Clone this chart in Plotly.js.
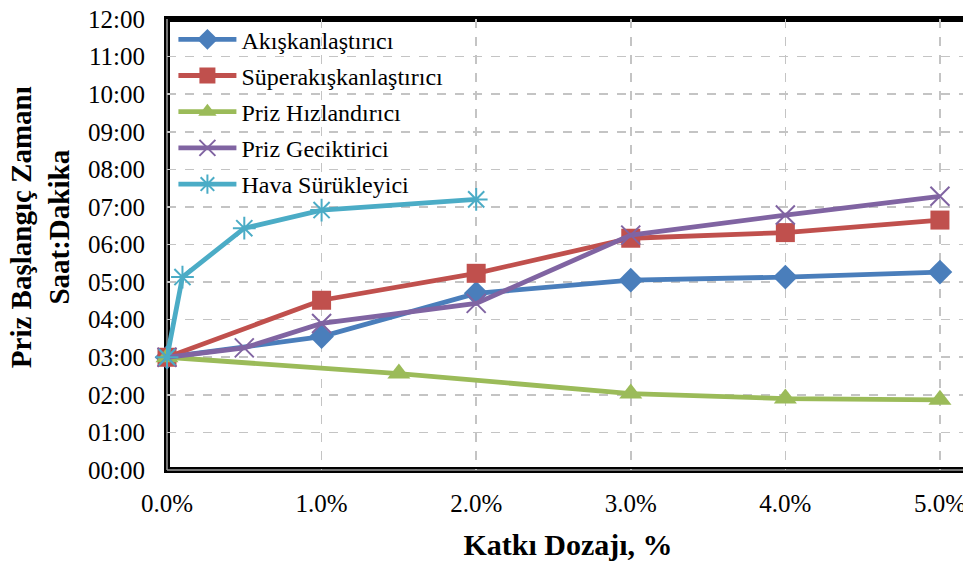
<!DOCTYPE html>
<html>
<head>
<meta charset="utf-8">
<script src="https://cdn.plot.ly/plotly-3.0.1.min.js"></script>
<style>
html, body { margin: 0; padding: 0; overflow: hidden; background: #fff; }
#chart { width: 972px; height: 563px; }
</style>
</head>
<body>
<div id="chart"></div>
<script>
// Data (dosage %, time "HH:MM")
const seriesNames = ["Akışkanlaştırıcı", "Süperakışkanlaştırıcı", "Priz Hızlandırıcı", "Priz Geciktirici", "Hava Sürükleyici"];

const akiskanX = [0, 1, 2, 3, 4, 5];
const akiskanY = ["03:00", "03:33", "04:42", "05:03", "05:08", "05:16"];

const superX = [0, 1, 2, 3, 4, 5];
const superY = ["03:00", "04:31", "05:14", "06:10", "06:19", "06:39"];

const hizlandiriciX = [0, 1.5, 3, 4, 5];
const hizlandiriciY = ["03:00", "02:34", "02:02", "01:54", "01:52"];

const geciktiriciX = [0, 0.5, 1, 2, 3, 4, 5];
const geciktiriciY = ["03:00", "03:15", "03:54", "04:26", "06:15", "06:47", "07:17"];

const havaX = [0, 0.1, 0.5, 1, 2];
const havaY = ["03:00", "05:08", "06:26", "06:55", "07:12"];

const yTickText = ["00:00","01:00","02:00","03:00","04:00","05:00","06:00","07:00","08:00","09:00","10:00","11:00","12:00"];
const xTickVals = [0, 1, 2, 3, 4, 5];
const xTickText = ["0.0%","1.0%","2.0%","3.0%","4.0%","5.0%"];

function toHours(s) { const p = s.split(":"); return Number(p[0]) + Number(p[1]) / 60; }
const yTickVals = yTickText.map(toHours);

const colors = ["#4A7EBB", "#C0504D", "#9BBB59", "#8064A2", "#4BACC6"];
const symbols = ["diamond", "square", "triangle-up", "x-thin-open", "asterisk-open"];
const sizes = [19, 19, 20, 19, 19];
const xs = [akiskanX, superX, hizlandiriciX, geciktiriciX, havaX];
const ys = [akiskanY, superY, hizlandiriciY, geciktiriciY, havaY];

const traces = seriesNames.map((name, i) => ({
  type: "scatter",
  mode: "lines+markers",
  name: name,
  legendgroup: "g" + i,
  x: xs[i],
  y: ys[i].map(toHours),
  cliponaxis: false,
  line: { color: colors[i], width: 4.8 },
  marker: { symbol: symbols[i], size: sizes[i], color: colors[i], line: { color: colors[i], width: (i >= 3 ? 2 : 0) } }
}));

const serif = "Liberation Serif, Times New Roman, serif";

const layout = {
  width: 972, height: 563,
  margin: { l: 167, r: 3, t: 19, b: 93 },
  paper_bgcolor: "#ffffff",
  plot_bgcolor: "#ffffff",
  font: { family: serif, color: "#000000" },
  showlegend: true,
  legend: {
    x: 0.008, y: 1.004, xanchor: "left", yanchor: "top",
    bgcolor: "rgba(0,0,0,0)",
    font: { family: serif, size: 24, color: "#000" },
    itemwidth: 58,
    tracegroupgap: 2
  },
  xaxis: {
    range: [0, 5.188],
    tickvals: xTickVals, ticktext: xTickText,
    tickfont: { family: serif, size: 25, color: "#000" },
    showgrid: true, gridcolor: "#c4c4c4", gridwidth: 1.6, griddash: "dash",
    zeroline: false, showline: false, ticks: "",
    ticklabelstandoff: 16,
    title: { text: "<b>Katkı Dozajı, %</b>", font: { family: serif, size: 30, color: "#000" }, standoff: 17 }
  },
  yaxis: {
    range: [0, 12],
    tickvals: yTickVals, ticktext: yTickText,
    tickfont: { family: serif, size: 25, color: "#000" },
    showgrid: true, gridcolor: "#c4c4c4", gridwidth: 1.6, griddash: "dash",
    zeroline: false, showline: false, ticks: "",
    ticklabelstandoff: 21
  },
  annotations: [{
    text: "<b>Priz Başlangıç Zamanı<br>Saat:Dakika</b>",
    xref: "paper", yref: "paper",
    x: -0.158, y: 0.539, xanchor: "center", yanchor: "middle",
    textangle: -90, showarrow: false,
    font: { family: serif, size: 29, color: "#000" }
  }],
  shapes: [
    { type: "rect", xref: "paper", yref: "paper", x0: 0, x1: 1, y0: 0, y1: 1, layer: "between",
      line: { color: "#000", width: 6 } },
    { type: "line", xref: "paper", yref: "paper", x0: 0, x1: 0, y0: 0, y1: 1, layer: "between",
      line: { color: "#9a9a9a", width: 1.5 } },
    { type: "line", xref: "paper", yref: "paper", x0: 0, x1: 1, y0: 0, y1: 0, layer: "between",
      line: { color: "#9a9a9a", width: 1.5 } }
  ]
};

Plotly.newPlot("chart", traces, layout, { staticPlot: true, displayModeBar: false });
</script>
</body>
</html>
